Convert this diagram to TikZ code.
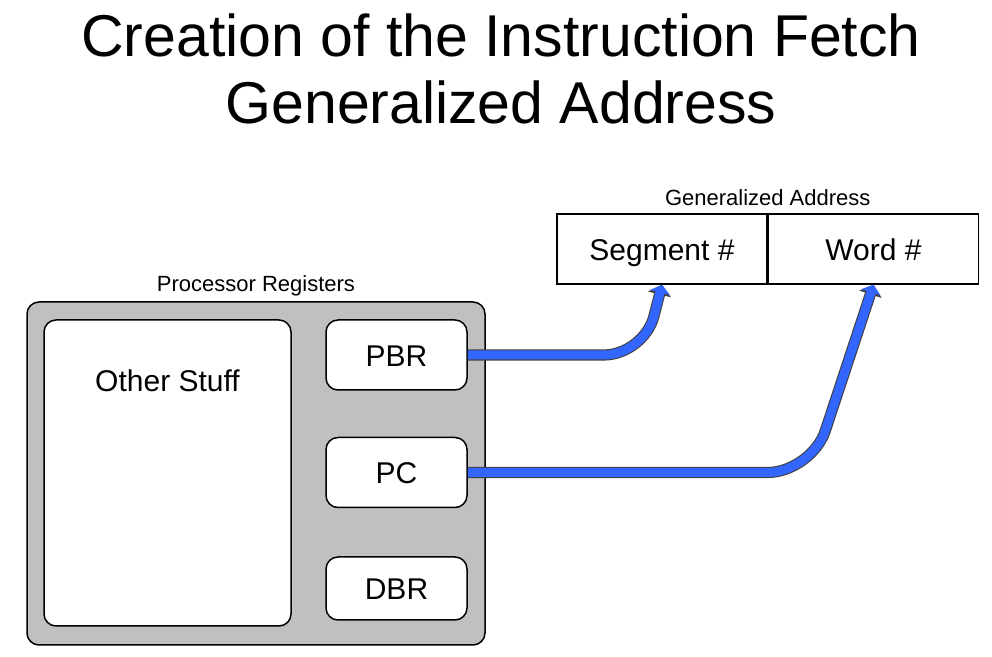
\documentclass[tikz,border=0pt]{standalone}
\usepackage{fontspec}
\setmainfont{Liberation Sans}
\usetikzlibrary{arrows.meta,calc,positioning}
\definecolor{regfill}{RGB}{192,192,192}
\definecolor{wireblue}{RGB}{51,102,255}

\begin{document}
\begin{tikzpicture}[x=0.5pt,y=-0.5pt,
  box/.style={draw,fill=white,line width=0.75pt,inner sep=0pt,text height=11.5pt,text depth=0pt,font=\fontsize{15}{17}\selectfont},
  reg/.style={box,rounded corners=6pt,minimum width=70.5pt,minimum height=35pt},
  field/.style={box,minimum width=105pt,minimum height=35pt},
  small/.style={font=\fontsize{11}{13}\selectfont,inner sep=0pt},
  wire/.style={draw=wireblue,line width=4.5pt,rounded corners=20pt,
    -{Triangle[width=10pt,length=4pt]},
    preaction={draw=black!75,line width=5.6pt,-{Triangle[width=11.5pt,length=5pt]}}}]
\useasboundingbox (0,0) rectangle (992,657);

\node[anchor=north,align=center,inner sep=0pt,font=\fontsize{29.5}{33.5}\selectfont] (title) at (501,13)
  {Creation of the Instruction Fetch\\Generalized Address};

% processor registers
\node[draw,fill=regfill,line width=0.75pt,rounded corners=6pt,minimum width=229pt,minimum height=171.5pt] (proc) at (256,473.5) {};
\node[small,anchor=base] (proclbl) at ($(proc.north)+(0,-10)$) {Processor Registers};
\node[box,rounded corners=6pt,minimum width=123.5pt,minimum height=153pt] (other) at (167.5,473) {};
\node[anchor=base,inner sep=0pt,font=\fontsize{15}{17}\selectfont] at ($(other.north)+(0,72)$) {Other Stuff};
\node[reg] (pbr) at (396.5,355) {PBR};
\node[reg,below=23pt of pbr] (pc) {PC};
\node[reg,below=24pt of pc,minimum height=31.5pt] (dbr) {DBR};

% generalized address
\node[field] (seg) at (662,249) {Segment \#};
\node[field,anchor=west] (word) at (seg.east) {Word \#};
\node[small,anchor=base] (addrlbl) at ($(seg.north east)+(0,-8)$) {Generalized Address};

\draw[wire] (pbr.east) -- ($(seg.south |- pbr.east)+(-18,0)$) -- (seg.south);
\draw[wire,rounded corners=22pt] (pc.east) -- ($(word.south |- pc.east)+(-62,0)$) -- (word.south);
\end{tikzpicture}
\end{document}
